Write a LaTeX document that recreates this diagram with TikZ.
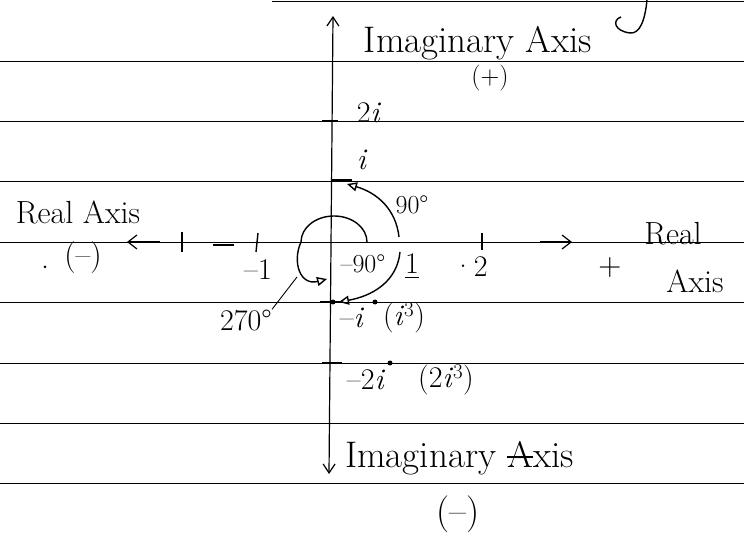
\documentclass[tikz,border=0pt]{standalone}
\usetikzlibrary{arrows.meta}
\begin{document}
\begin{tikzpicture}[x=1pt,y=-1pt,
  rule/.style={line width=0.9pt},
  axisline/.style={line width=1.2pt},
  pen/.style={line width=1.4pt},
  lbl/.style={inner sep=0pt, font=\fontsize{26}{28}\selectfont},
  lblb/.style={inner sep=0pt, font=\fontsize{30}{32}\selectfont},
  mid/.style={inner sep=0pt, font=\fontsize{32}{34}\selectfont},
  big/.style={inner sep=0pt, font=\fontsize{37}{39}\selectfont},
  dotm/.style={circle, fill, inner sep=0pt, minimum size=5pt},
  barb/.style={line width=1.2pt},
  opentip/.style={-{Triangle[open,length=10pt,width=9pt]}},
]
\useasboundingbox (0,0) rectangle (744,534);
% ruled lines
\foreach \yy in {61,121,181,242,302,363,423,483} \draw[rule] (0,\yy) -- (744,\yy);
\draw[rule] (272,1) -- (744,1);
% vertical (imaginary) axis
\coordinate (top) at (333,16);
\coordinate (bot) at (329,474);
\draw[axisline, {Straight Barb[length=9pt,width=12pt]}-{Straight Barb[length=9pt,width=12pt]}] (bot) -- (top);
% real axis arrow marks
\coordinate (lt) at (127,242);
\coordinate (lts) at (160,242);
\coordinate (rt) at (572,242);
\coordinate (rts) at (540,242);
\draw[barb, -{Straight Barb[length=9pt,width=14pt]}] (lts) -- (lt);
\draw[barb, -{Straight Barb[length=9pt,width=14pt]}] (rts) -- (rt);
% ticks on real axis
\draw[pen] (182,232) -- (182,252);
\draw[pen] (258,233) -- (256,252);
\draw[pen] (482,233) -- (482,250);
\draw[pen] (213,245) -- (234,245);
% ticks on imaginary axis
\draw[pen] (322,121) -- (338,121);
\draw[line width=3pt] (331,181) -- (352,181);
\draw[pen] (320,302) -- (340,302);
\draw[pen] (322,363) -- (342,363);
% points
\node[dotm] (pmi) at (333,302) {};
\node[dotm] (p3) at (375,302) {};
\node[dotm] (p23) at (390,363) {};
\node[dotm, minimum size=3pt] (stray) at (45,267) {};
% labels
\node[big] (imtop) at (478,43) {Imaginary Axis};
\node[lbl] (plus) at (490,78) {(+)};
\node[lblb] (twoi) at (369,113) {2\textit{i}};
\node[lblb] (ione) at (362,160) {\textit{i}};
\node[lbl] (ninety) at (412,205) {90°};
\node[mid] (realL) at (78,212) {Real Axis};
\node[mid] (minusL) at (83,258) {(--)};
\node[lblb] (mone) at (258,270) {--1};
\node[lbl] (mninety) at (363,264) {--90°};
\node[lblb] (one) at (412,264) {1};
\draw[line width=1pt] ([yshift=-3pt]one.south west) -- ([yshift=-3pt]one.south east);
\node[lblb] (two) at (470,267) {·2};
\node[mid] (plusR) at (610,268) {+};
\node[mid] (realR) at (673,234) {Real};
\node[mid] (axisR) at (695,281) {Axis};
\node[lblb] (t270) at (246,320) {270°};
\node[lblb] (mi) at (352,318) {--\textit{i}};
\node[lblb] (ic) at (404,318) {(\textit{i}\textsuperscript{3})};
\node[lblb] (m2i) at (366,380) {--2\textit{i}};
\node[lblb] (i2c) at (446,380) {(2\textit{i}\textsuperscript{3})};
\node[big, anchor=west] (imbot) at (345,459) {Imaginary};
\node[big, anchor=base west] (axbot) at ([xshift=11pt]imbot.base east) {Axis};
\draw[pen] ([yshift=11pt]axbot.base west) -- ([xshift=26pt,yshift=11pt]axbot.base west);
\node[big] (minusB) at (458,514) {(--)};
% arcs
\draw[pen, opentip] (367,242) arc[start angle=0, end angle=-180, x radius=33, y radius=26]
   .. controls (292,262) and (300,286) .. (327,279);
\draw[pen, opentip] (399,237) .. controls (396,210) and (378,193) .. (347,184);
\draw[pen, opentip] (400,252) .. controls (397,282) and (372,296) .. (339,302);
% leader from 270 label
\coordinate (aim) at (297,277);
\draw[line width=0.9pt] (t270.north east) -- (aim);
% fragment of previous writing at top right
\draw[pen] (647,0) .. controls (645,20) and (640,34) .. (630,33)
   .. controls (614,31) and (612,20) .. (621,17);
\end{tikzpicture}
\end{document}
